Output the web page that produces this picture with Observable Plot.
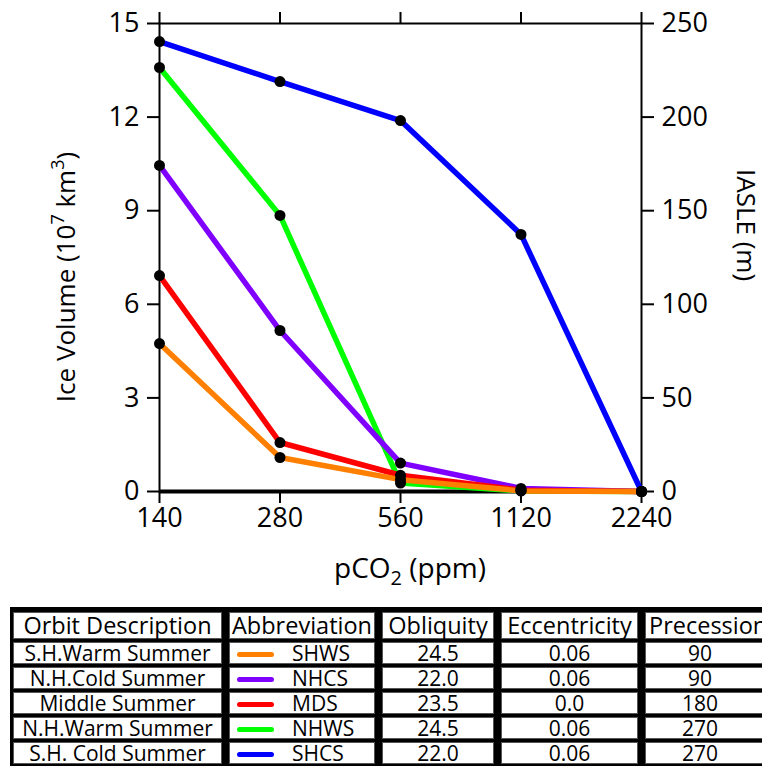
<!DOCTYPE html>
<html><head><meta charset="utf-8">
<script src="https://cdn.jsdelivr.net/npm/d3@7"></script>
<script src="https://cdn.jsdelivr.net/npm/@observablehq/plot@0.6"></script>
<style>
html,body{margin:0;padding:0;background:#fff;}
body{width:762px;height:766px;overflow:hidden;position:relative;font-family:"Open Sans",sans-serif;}
#chart{position:absolute;left:0;top:0;}
#band{position:absolute;left:10px;top:607px;width:752px;height:159px;background:#000;}
#tbl{position:absolute;left:6px;top:609px;background:transparent;border-spacing:7px 3px;table-layout:fixed;width:776px;}
#tbl td{background:#fff;border:1px solid #555;padding:0;text-align:center;color:#000;font-size:21px;line-height:20px;height:20px;overflow:visible;white-space:nowrap;}
#tbl tr.head td{font-size:23.5px;height:25px;line-height:25px;}
#tbl td.last{padding-right:20px;}
#tbl tr.head td.last{padding-right:0;text-align:left;padding-left:3px;}
.sw{display:inline-block;width:37px;height:5px;border-radius:3px;vertical-align:middle;margin-right:18px;position:relative;top:-1px;}
td.ab{text-align:left !important;padding-left:7px !important;}
</style></head><body>
<div id="chart"></div>
<div id="band"></div>
<table id="tbl"></table>
<script>
// data
const pco2 = [140, 280, 560, 1120, 2240];
const shws = [4.74, 1.09, 0.38, 0.02, 0];
const nhcs = [10.45, 5.16, 0.91, 0.10, 0];
const mds  = [6.92, 1.57, 0.52, 0.04, 0];
const nhws = [13.59, 8.85, 0.27, 0.02, 0];
const shcs = [14.42, 13.14, 11.89, 8.24, 0];
const volumeTicks = [0, 3, 6, 9, 12, 15];
const iasleTicks = [0, 50, 100, 150, 200, 250];
const abbreviations = ["SHWS", "NHCS", "MDS", "NHWS", "SHCS"];
const descriptions = ["S.H.Warm Summer", "N.H.Cold Summer", "Middle Summer", "N.H.Warm Summer", "S.H. Cold Summer"];
const obliquity = ["24.5", "22.0", "23.5", "24.5", "22.0"];
const eccentricity = ["0.06", "0.06", "0.0", "0.06", "0.06"];
const precession = ["90", "90", "180", "270", "270"];
const colors = ["#ff8000", "#8000ff", "#ff0000", "#00ff00", "#0000ff"];
const headers = ["Orbit Description", "Abbreviation", "Obliquity", "Eccentricity", "Precession"];

const seriesValues = [shws, nhcs, mds, nhws, shcs];
const series = abbreviations.map((a, i) => ({abbr: a, color: colors[i],
  rows: pco2.map((p, j) => ({pco2: p, v: seriesValues[i][j]}))}));
const drawOrder = [4, 3, 1, 2, 0];
const allPts = series.flatMap(s => s.rows);

const axisStyle = {tickSize: 12, strokeWidth: 2, fontSize: 27, label: null};
const plot = Plot.plot({
  width: 762, height: 600,
  marginLeft: 159, marginRight: 121, marginTop: 23, marginBottom: 109,
  style: {fontFamily: "Open Sans", fontSize: "27px", color: "#000", background: "transparent", overflow: "visible"},
  x: {type: "log", domain: [140, 2240]},
  y: {domain: [0, 15]},
  marks: [
    Plot.frame({stroke: "#000", strokeWidth: 2}),
    Plot.axisY({...axisStyle, anchor: "left", ticks: volumeTicks, tickPadding: 8}),
    Plot.axisY({...axisStyle, anchor: "right", ticks: iasleTicks.map(m => m * 15 / 250),
      tickFormat: d => String(Math.round(d * 250 / 15)), tickPadding: 8, textAnchor: "start"}),
    Plot.axisX({...axisStyle, anchor: "bottom", ticks: pco2, tickFormat: d => String(d), tickPadding: 4}),
    Plot.axisX({...axisStyle, anchor: "top", ticks: pco2, tickFormat: () => ""}),
    Plot.ruleY([0], {stroke: "#000", strokeWidth: 4}),
    ...drawOrder.map(i => Plot.line(series[i].rows, {x: "pco2", y: "v", stroke: series[i].color, strokeWidth: 5.5, strokeLinejoin: "miter", strokeLinecap: "butt"})),
    Plot.dot(allPts, {x: "pco2", y: "v", r: 5.5, fill: "#000", stroke: "none"})
  ]
});
document.getElementById("chart").appendChild(plot);

// axis labels
const svg = d3.select(plot);
const yl = svg.append("text").attr("transform", "translate(75,277) rotate(-90)")
  .attr("text-anchor", "middle").attr("fill", "#000")
  .style("font-family", "Open Sans").style("font-size", "26px");
yl.append("tspan").text("Ice Volume (10");
yl.append("tspan").attr("dy", -11).style("font-size", "18px").text("7");
yl.append("tspan").attr("dy", 11).text(" km");
yl.append("tspan").attr("dy", -11).style("font-size", "18px").text("3");
yl.append("tspan").attr("dy", 11).text(")");

svg.append("text").attr("transform", "translate(737,225) rotate(90)")
  .attr("text-anchor", "middle").attr("fill", "#000")
  .style("font-family", "Open Sans").style("font-size", "26px").text("IASLE (m)");

const xl = svg.append("text").attr("transform", "translate(410,578)")
  .attr("text-anchor", "middle").attr("fill", "#000")
  .style("font-family", "Open Sans").style("font-size", "28px");
xl.append("tspan").text("pCO");
xl.append("tspan").attr("dy", 7).style("font-size", "20px").text("2");
xl.append("tspan").attr("dy", -7).text(" (ppm)");

// table
const tbl = d3.select("#tbl");
tbl.append("colgroup").selectAll("col").data([209, 146, 112, 137, 130]).join("col").attr("width", d => d);
tbl.append("tr").attr("class", "head").selectAll("td").data(headers).join("td")
  .attr("class", (d, i) => i === 4 ? "last" : null).text(d => d);
abbreviations.forEach((a, i) => {
  const tr = tbl.append("tr");
  tr.append("td").text(descriptions[i]);
  const ab = tr.append("td").attr("class", "ab");
  ab.append("span").attr("class", "sw").style("background", colors[i]);
  ab.append("span").text(a);
  tr.append("td").text(obliquity[i]);
  tr.append("td").text(eccentricity[i]);
  tr.append("td").attr("class", "last").text(precession[i]);
});
</script>
</body></html>
